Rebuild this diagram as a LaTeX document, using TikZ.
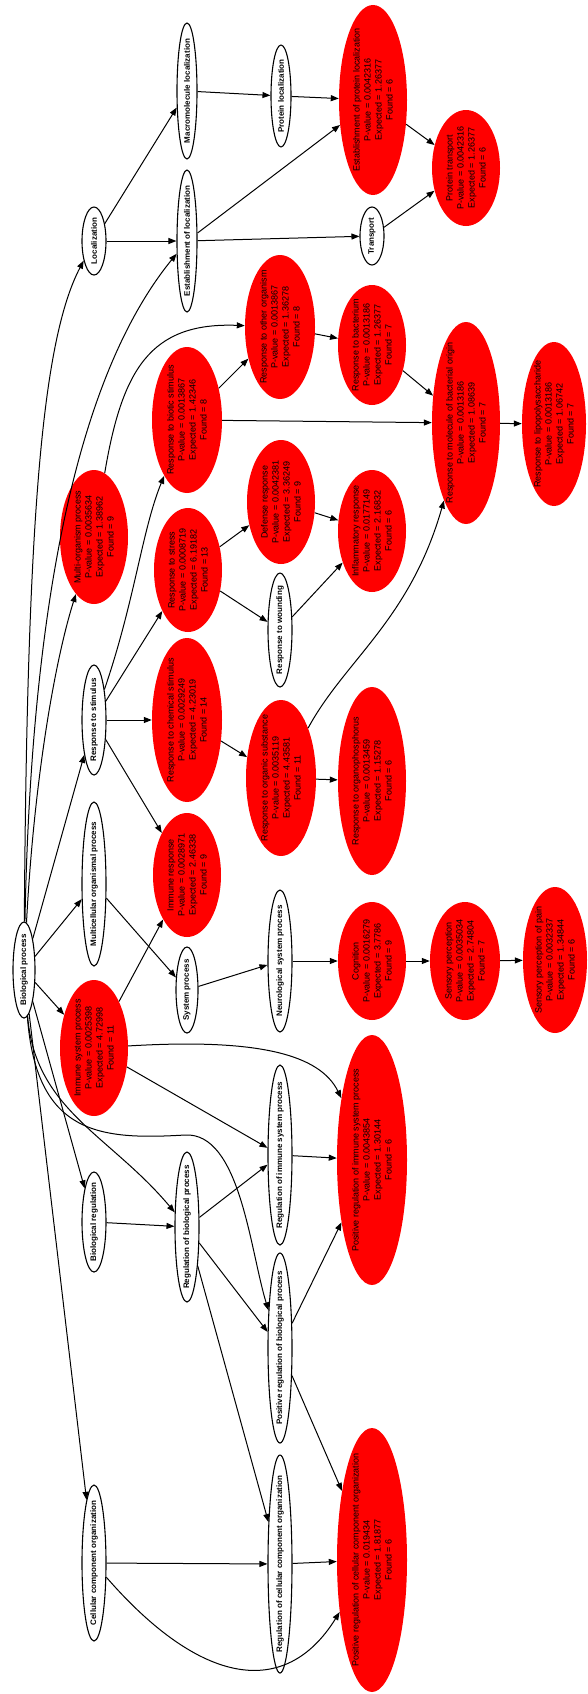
\documentclass[tikz,border=0pt]{standalone}
\usepackage{fontspec}
\setmainfont{Liberation Sans}
\usetikzlibrary{shapes.geometric,arrows.meta}
\tikzset{
  wn/.style={ellipse, draw=black, line width=1.1pt, fill=white, inner sep=0pt},
  rn/.style={ellipse, fill=red, draw=none, inner sep=0pt},
  wt/.style={rotate=90, inner sep=0pt, font=\bfseries\fontsize{8}{10}\selectfont},
  rt/.style={rotate=90, inner sep=0pt, align=center, font=\fontsize{9}{11}\selectfont},
  arr/.style={-{Triangle[length=8pt,width=6pt]}, line width=1pt, draw=black}
}
\newcommand{\gowhite}[6]{%
  \node[wn, minimum width=2*#4pt, minimum height=2*#5pt] (#1) at (#2,-#3) {};
  \node[wt] (#1-t) at (#1.center) {#6};}
\newcommand{\gored}[9]{%
  \node[rn, minimum width=2*#4pt, minimum height=2*#5pt] (#1) at (#2,-#3) {};
  \node[rt] (#1-t) at (#1.center) {#6\\P-value = #7\\Expected = #8\\Found = #9};}
\begin{document}
\begin{tikzpicture}[x=1pt,y=1pt]
\useasboundingbox (0,0) rectangle (587,-1694);
\fill[white] (0,0) rectangle (587,-1694);
% white nodes
\gowhite{bp}{24}{970}{11}{48}{Biological process}
\gowhite{loc}{94}{241}{12}{34}{Localization}
\gowhite{estloc}{187}{241}{10}{71}{Establishment of localization}
\gowhite{macloc}{187}{91}{10}{68}{Macromolecule localization}
\gowhite{protloc}{281}{96}{10}{51}{Protein localization}
\gowhite{transport}{372}{236}{12}{29}{Transport}
\gowhite{respstim}{94}{720}{12}{55}{Response to stimulus}
\gowhite{multicell}{94}{884}{12}{82}{Multicellular organismal process}
\gowhite{syspro}{187}{990}{11}{43}{System process}
\gowhite{neuro}{280}{961}{12}{71}{Neurological system process}
\gowhite{wound}{280}{630}{12}{57}{Response to wounding}
\gowhite{bioreg}{94}{1222}{12}{50}{Biological regulation}
\gowhite{regbio}{187}{1227}{12}{75}{Regulation of biological process}
\gowhite{regimm}{280}{1155}{12}{90}{Regulation of immune system process}
\gowhite{posregbio}{280}{1348}{12}{95}{Positive regulation of biological process}
\gowhite{cellcomp}{94}{1563}{12}{78}{Cellular component organization}
\gowhite{regcell}{280}{1564}{12}{109}{Regulation of cellular component organization}
% red nodes
\gored{estprot}{373}{100}{34}{95}{Establishment of protein localization}{0.0042316}{1.26377}{6}
\gored{prottrans}{466}{168}{34}{58}{Protein transport}{0.0042316}{1.26377}{6}
\gored{othorg}{280}{327}{35}{72}{Response to other organism}{0.0013867}{1.36278}{8}
\gored{bact}{372}{345}{34}{60}{Response to bacterium}{0.0013186}{1.26377}{7}
\gored{biotic}{187}{420}{35}{73}{Response to biotic stimulus}{0.0013867}{1.42346}{8}
\gored{molbact}{466}{423}{34}{101}{Response to molecule of bacterial origin}{0.0013186}{1.08639}{7}
\gored{lps}{554}{424}{32}{82}{Response to lipopolysaccharide}{0.0013186}{1.06742}{7}
\gored{multiorg}{94}{537}{34}{67}{Multi-organism process}{0.0035634}{1.38962}{9}
\gored{stress}{188}{570}{34}{62}{Response to stress}{0.0008719}{6.19182}{13}
\gored{chem}{187}{720}{35}{82}{Response to chemical stimulus}{0.0029249}{4.23019}{14}
\gored{immresp}{187}{875}{34}{62}{Immune response}{0.0028971}{2.46338}{9}
\gored{defense}{281}{502}{34}{62}{Defense response}{0.0042381}{3.36249}{9}
\gored{inflam}{372}{531}{34}{61}{Inflammatory response}{0.0177149}{2.16832}{6}
\gored{organic}{281}{778}{35}{78}{Response to organic substance}{0.0035119}{4.43581}{11}
\gored{organophos}{372}{781}{34}{94}{Response to organophosphorus}{0.0013459}{1.15278}{6}
\gored{immsys}{94}{1048}{34}{68}{Immune system process}{0.0025398}{4.72998}{11}
\gored{cognition}{372}{961}{34}{59}{Cognition}{0.0016279}{3.7786}{9}
\gored{sensory}{465}{961}{35}{59}{Sensory perception}{0.0035034}{2.74804}{7}
\gored{pain}{555}{960}{32}{73}{Sensory perception of pain}{0.0032337}{1.34844}{6}
\gored{posregimm}{372}{1160}{35}{125}{Positive regulation of immune system process}{0.0043854}{1.30144}{6}
\gored{posregcell}{372}{1560}{35}{132}{Positive regulation of cellular component organization}{0.019434}{1.81877}{6}
% edges from root
\draw[arr] (bp) .. controls (27,-520) and (42,-340) .. (loc);
\draw[arr] (bp) .. controls (32,-560) and (90,-360) .. (estloc);
\draw[arr] (bp) .. controls (34,-780) and (55,-660) .. (multiorg);
\draw[arr] (bp) -- (respstim);
\draw[arr] (bp) -- (multicell);
\draw[arr] (bp) -- (immsys);
\draw[arr] (bp) -- (bioreg);
\draw[arr] (bp) -- (cellcomp);
\draw[arr] (bp) .. controls (35,-1110) and (110,-1135) .. (regbio);
\draw[arr] (bp) .. controls (36,-1135) and (100,-1140) .. (185,-1135) .. controls (240,-1132) and (250,-1250) .. (posregbio);
% localization
\draw[arr] (loc) -- (macloc);
\draw[arr] (loc) -- (estloc);
\draw[arr] (macloc) -- (protloc);
\draw[arr] (protloc) -- (estprot);
\draw[arr] (estloc) -- (estprot);
\draw[arr] (estloc) -- (transport);
\draw[arr] (estprot) -- (prottrans);
\draw[arr] (transport) -- (prottrans);
% multi-organism / stimulus
\draw[arr] (multiorg) .. controls (122,-370) and (150,-322) .. (othorg);
\draw[arr] (biotic) -- (othorg);
\draw[arr] (othorg) -- (bact);
\draw[arr] (bact) -- (molbact);
\draw[arr] (biotic) -- (molbact);
\draw[arr] (molbact) -- (lps);
\draw[arr] (organic) .. controls (345,-660) and (410,-620) .. (molbact);
\draw[arr] (respstim) .. controls (135,-600) and (142,-530) .. (biotic);
\draw[arr] (respstim) -- (stress);
\draw[arr] (respstim) -- (chem);
\draw[arr] (respstim) -- (immresp);
\draw[arr] (stress) -- (defense);
\draw[arr] (stress) -- (wound);
\draw[arr] (defense) -- (inflam);
\draw[arr] (wound) -- (inflam);
\draw[arr] (chem) -- (organic);
\draw[arr] (organic) -- (organophos);
% system process
\draw[arr] (multicell) -- (syspro);
\draw[arr] (immsys) -- (immresp);
\draw[arr] (syspro) -- (neuro);
\draw[arr] (neuro) -- (cognition);
\draw[arr] (cognition) -- (sensory);
\draw[arr] (sensory) -- (pain);
% regulation
\draw[arr] (immsys) .. controls (260,-1038) and (320,-1055) .. (posregimm);
\draw[arr] (immsys) -- (regimm);
\draw[arr] (bioreg) -- (regbio);
\draw[arr] (regbio) -- (regimm);
\draw[arr] (regbio) -- (posregbio);
\draw[arr] (regbio) -- (regcell);
\draw[arr] (regimm) -- (posregimm);
\draw[arr] (posregbio) -- (posregimm);
\draw[arr] (posregbio) -- (posregcell);
\draw[arr] (regcell) -- (posregcell);
\draw[arr] (cellcomp) -- (regcell);
\draw[arr] (cellcomp) .. controls (200,-1685) and (285,-1700) .. (posregcell);
\end{tikzpicture}
\end{document}
